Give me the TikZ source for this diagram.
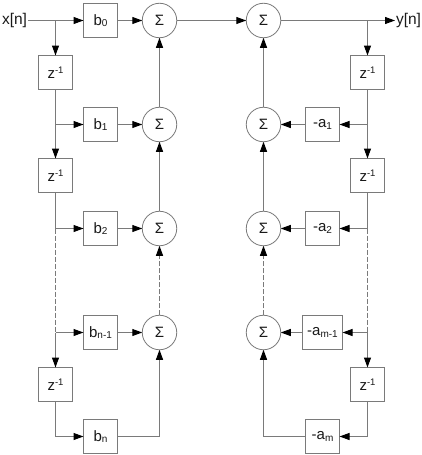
\documentclass[tikz,border=0pt]{standalone}
\usepackage{fontspec}
\setmainfont{Liberation Sans}
\usetikzlibrary{arrows.meta}
\definecolor{ln}{gray}{0.48}
\definecolor{tx}{gray}{0.1}
\tikzset{
  x=1pt,y=-1pt,
  box/.style={draw=ln,line width=1pt,fill=white,text=tx,minimum width=34pt,minimum height=34pt,inner sep=0pt,outer sep=0pt,font=\fontsize{15}{17}\selectfont},
  widebox/.style={box,minimum width=40pt},
  sumnode/.style={draw=ln,line width=0.8pt,circle,fill=white,text=tx,minimum size=34.5pt,inner sep=0pt,outer sep=0pt,font=\fontsize{15}{17}\selectfont},
  lab/.style={text=tx,inner sep=0pt,outer sep=0pt,font=\fontsize{15.5}{17}\selectfont},
  wire/.style={draw=ln,line width=1pt},
  arr/.style={wire,-{Triangle[length=10pt,width=7pt,black]}},
  darr/.style={arr,dash pattern=on 5pt off 2pt},
  dwire/.style={wire,dash pattern=on 5pt off 2pt},
}
\newcommand{\zinv}{z\raisebox{5.5pt}{\fontsize{9.5}{10}\selectfont -1}}
\newcommand{\lowsub}[2][-1.5pt]{\raisebox{#1}{\fontsize{10}{11}\selectfont #2}}
\begin{document}
\begin{tikzpicture}
\useasboundingbox (0,0) rectangle (422,455);
\fill[white] (0,0) rectangle (422,455);
% labels
\node[lab,anchor=west] (xin) at (2,20) {x[n]};
\node[lab,anchor=east] (yout) at (421,20) {y[n]};
% left column
\node[box] (bz) at (100.5,20.5) {b\lowsub[-0.5pt]{0}};
\node[box] (ba) at (100.5,124.5) {b\lowsub[-0.5pt]{1}};
\node[box] (bb) at (100.5,228.5) {b\lowsub{2}};
\node[box] (bc) at (100.5,332.5) {b\lowsub{n-1}};
\node[box] (bd) at (100.5,436.5) {b\lowsub{n}};
\node[box] (za) at (55.5,72.5) {\zinv};
\node[box] (zb) at (55.5,175.5) {\zinv};
\node[box] (zc) at (55.5,384.5) {\zinv};
\node[sumnode] (sz) at (159.5,20.5) {Σ};
\node[sumnode] (sa) at (159.5,124.5) {Σ};
\node[sumnode] (sb) at (159.5,228.5) {Σ};
\node[sumnode] (sc) at (159.5,332.5) {Σ};
% right column
\node[box] (aa) at (322.5,124.5) {-a\lowsub{1}};
\node[box] (ab) at (322.5,228.5) {-a\lowsub{2}};
\node[widebox] (ac) at (322.5,332.5) {-a\lowsub{m-1}};
\node[box] (ad) at (322.5,436.5) {-a\lowsub{m}};
\node[box] (ya) at (367.5,72.5) {\zinv};
\node[box] (yb) at (367.5,175.5) {\zinv};
\node[box] (yc) at (367.5,384.5) {\zinv};
\node[sumnode] (rz) at (263.5,20.5) {Σ};
\node[sumnode] (ra) at (263.5,124.5) {Σ};
\node[sumnode] (rb) at (263.5,228.5) {Σ};
\node[sumnode] (rc) at (263.5,332.5) {Σ};
% junctions
\coordinate (ja) at (55.5,20.5);
\coordinate (jb) at (55.5,124.5);
\coordinate (jc) at (55.5,228.5);
\coordinate (jd) at (55.5,332.5);
\coordinate (je) at (55.5,436.5);
\coordinate (ka) at (367.5,20.5);
\coordinate (kb) at (367.5,124.5);
\coordinate (kc) at (367.5,228.5);
\coordinate (kd) at (367.5,332.5);
\coordinate (ke) at (367.5,436.5);
\coordinate (fin) at (28,20.5);
\coordinate (fout) at (395,20.5);
\coordinate (sd) at (159.5,436.5);
\coordinate (rd) at (263.5,436.5);
% left wires
\draw[arr] (fin) -- (bz);
\draw[arr] (ja) -- (za);
\draw[wire] (za) -- (jb);
\draw[arr] (jb) -- (ba);
\draw[arr] (jb) -- (zb);
\draw[wire] (zb) -- (jc);
\draw[arr] (jc) -- (bb);
\draw[dwire] (jc) -- (jd);
\draw[arr] (jd) -- (bc);
\draw[arr] (jd) -- (zc);
\draw[wire] (zc) -- (je);
\draw[arr] (je) -- (bd);
\draw[arr] (bz) -- (sz);
\draw[arr] (ba) -- (sa);
\draw[arr] (bb) -- (sb);
\draw[arr] (bc) -- (sc);
\draw[arr] (bd) -- (sd) -- (sc);
\draw[arr] (sa) -- (sz);
\draw[arr] (sb) -- (sa);
\draw[darr] (sc) -- (sb);
% middle
\draw[arr] (sz) -- (rz);
% right wires
\draw[arr] (rz) -- (fout);
\draw[arr] (ka) -- (ya);
\draw[wire] (ya) -- (kb);
\draw[arr] (kb) -- (aa);
\draw[arr] (kb) -- (yb);
\draw[wire] (yb) -- (kc);
\draw[arr] (kc) -- (ab);
\draw[dwire] (kc) -- (kd);
\draw[arr] (kd) -- (ac);
\draw[arr] (kd) -- (yc);
\draw[wire] (yc) -- (ke);
\draw[arr] (ke) -- (ad);
\draw[arr] (aa) -- (ra);
\draw[arr] (ab) -- (rb);
\draw[arr] (ac) -- (rc);
\draw[arr] (ad) -- (rd) -- (rc);
\draw[arr] (ra) -- (rz);
\draw[arr] (rb) -- (ra);
\draw[darr] (rc) -- (rb);
\end{tikzpicture}
\end{document}
